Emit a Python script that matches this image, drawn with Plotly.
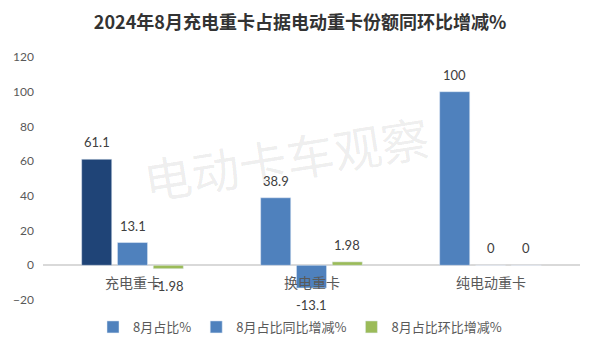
import plotly.graph_objects as go

categories = ["充电重卡", "换电重卡", "纯电动重卡"]
share = [61.1, 38.9, 100]
yoy = [13.1, -13.1, 0]
mom = [-1.98, 1.98, 0]
series_names = ["8月占比%", "8月占比同比增减%", "8月占比环比增减%"]
y_ticks = [-20, 0, 20, 40, 60, 80, 100, 120]

DARK = "#1F4477"
BLUE = "#4F81BD"
GREEN = "#9BBB59"
LABEL = "#404040"
AXIS = "#595959"
NUM_FONT = "Lato, 'Open Sans', sans-serif"
CJK = "'Noto Sans CJK SC', sans-serif"

W, H = 600, 352
M = dict(l=43, r=20, t=57, b=52)
BARGAP, GROUPGAP = 0.4, 0.16

fig = go.Figure()

share_colors = [DARK] + [BLUE] * (len(categories) - 1)

# legend-only proxy for first series (legend swatch in standard blue)
fig.add_trace(go.Bar(x=[categories[0]], y=[None], name=series_names[0], marker_color=BLUE,
                     offsetgroup="a", legendrank=1, hoverinfo="skip"))
fig.add_trace(go.Bar(x=categories, y=share, name=series_names[0], marker_color=share_colors,
                     offsetgroup="a", showlegend=False))
fig.add_trace(go.Bar(x=categories, y=yoy, name=series_names[1], marker_color=BLUE,
                     offsetgroup="b", legendrank=2))
fig.add_trace(go.Bar(x=categories, y=mom, name=series_names[2], marker_color=GREEN,
                     offsetgroup="c", legendrank=3))

annotations = []
# data labels, placed over each grouped bar slot
plot_w = W - M["l"] - M["r"]
slot = plot_w / len(categories) * (1 - BARGAP) / 3
for si, vals in enumerate([share, yoy, mom]):
    for c, v in zip(categories, vals):
        annotations.append(dict(x=c, y=v, xref="x", yref="y", text=f"{v:g}", showarrow=False,
                                xshift=(si - 1) * slot, yshift=17 if v >= 0 else -17,
                                font=dict(family=NUM_FONT, size=13, color=LABEL)))
# category labels next to the zero line
for c in categories:
    annotations.append(dict(x=c, y=0, xref="x", yref="y", text=c, showarrow=False,
                            yshift=-17, font=dict(family=CJK, size=14, color=AXIS)))
# watermark
annotations.append(dict(x=(286 - M["l"]) / plot_w, y=(H - M["b"] - 157) / (H - M["t"] - M["b"]),
                        xref="paper", yref="paper", text="电动卡车观察",
                        showarrow=False, textangle=-9,
                        font=dict(family=CJK, size=48, color="rgba(0,0,0,0.08)")))

fig.update_layout(
    width=W, height=H,
    margin=dict(**M, autoexpand=False),
    paper_bgcolor="white", plot_bgcolor="white",
    barmode="group", bargap=BARGAP, bargroupgap=GROUPGAP,
    title=dict(text="<b>2024年8月充电重卡占据电动重卡份额同环比增减%</b>",
               x=0.5, xref="container", xanchor="center",
               y=1 - 23 / H, yref="container", yanchor="middle",
               font=dict(family=CJK, size=18, color="#333333")),
    legend=dict(orientation="h", x=0.5, xref="container", xanchor="center",
                y=1 - 327 / H, yref="container", yanchor="middle",
                font=dict(family=CJK, size=13, color=AXIS),
                traceorder="normal", itemwidth=30),
    xaxis=dict(type="category", categoryorder="array", categoryarray=categories,
               range=[-0.5, len(categories) - 0.5],
               showticklabels=False, showgrid=False, showline=False, ticks=""),
    yaxis=dict(range=[-20, 120], tickvals=y_ticks, showgrid=False, showline=False,
               zeroline=True, zerolinecolor="#D9D9D9", zerolinewidth=2,
               ticks="", ticklabelstandoff=8,
               tickfont=dict(family=NUM_FONT, size=12, color=AXIS)),
    annotations=annotations,
    showlegend=True,
)

fig.write_html("out.html")
